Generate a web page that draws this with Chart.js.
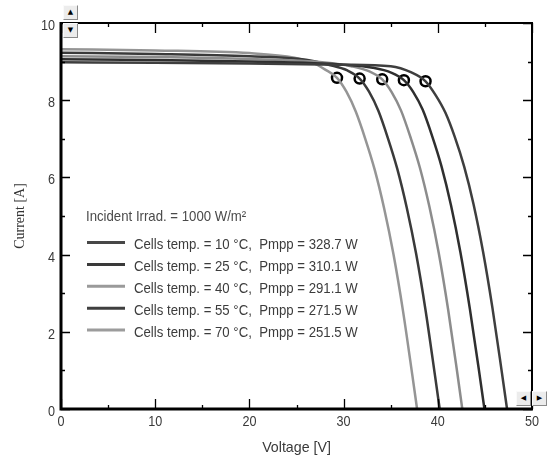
<!DOCTYPE html>
<html>
<head>
<meta charset="utf-8">
<script src="https://cdn.jsdelivr.net/npm/chart.js@4/dist/chart.umd.min.js"></script>
<style>
  html, body { margin: 0; padding: 0; background: #fff; }
  #wrap { position: relative; width: 548px; height: 459px; }
  canvas { display: block; }
  .btn {
    position: absolute; width: 15px; height: 15px; box-sizing: border-box;
    background: #ececec; border: 1px solid; border-color: #fafafa #8a8a8a #8a8a8a #fafafa;
    font: 7px "DejaVu Sans", sans-serif; color: #000; text-align: center; line-height: 13px;
  }
</style>
</head>
<body>
<div id="wrap">
  <canvas id="chart" width="548" height="459"></canvas>
  <div class="btn" style="left:63px;top:5px;">▲</div>
  <div class="btn" style="left:63px;top:23px;">▼</div>
  <div class="btn" style="left:516px;top:391px;">◀</div>
  <div class="btn" style="left:532px;top:391px;">▶</div>
</div>
<script>
// Module I-V characteristics at 1000 W/m² for several cell temperatures
const irradiance = 1000;
const cellTemps = [10, 25, 40, 55, 70];
const pmpp = [328.7, 310.1, 291.1, 271.5, 251.5];

const voltage10 = [0, 10, 20, 30, 35, 37.2, 38.7, 39.8, 40.8, 41.8, 42.8, 43.8, 44.8, 45.8, 46.8, 47.35];
const current10 = [8.98, 8.97, 8.95, 8.92, 8.88, 8.72, 8.49, 8.12, 7.68, 7.05, 6.28, 5.3, 4.08, 2.62, 0.95, 0];

const voltage25 = [0, 10, 20, 30, 33.1, 35.1, 36.4, 37.4, 38.4, 39.4, 40.4, 41.4, 42.4, 43.4, 44.4, 44.95];
const current25 = [9.06, 9.04, 9.0, 8.92, 8.84, 8.71, 8.52, 8.21, 7.75, 7.07, 6.28, 5.28, 4.06, 2.6, 0.95, 0];

const voltage40 = [0, 10, 20, 28, 30.8, 32.8, 34.1, 35.1, 36.1, 37.1, 38.1, 39.1, 40.1, 41.1, 42.1, 42.6];
const current40 = [9.14, 9.12, 9.07, 8.98, 8.88, 8.74, 8.54, 8.21, 7.73, 7.04, 6.25, 5.25, 4.04, 2.57, 0.88, 0];

const voltage55 = [0, 10, 20, 26, 28.4, 30.4, 31.7, 32.7, 33.7, 34.7, 35.7, 36.7, 37.7, 38.7, 39.7, 40.2];
const current55 = [9.23, 9.2, 9.14, 9.05, 8.92, 8.77, 8.56, 8.22, 7.72, 7.02, 6.22, 5.22, 4.02, 2.56, 0.87, 0];

const voltage70 = [0, 10, 20, 24.8, 26.8, 28, 29.3, 30.3, 31.3, 32.3, 33.3, 34.3, 35.3, 36.3, 37.3, 37.8];
const current70 = [9.32, 9.29, 9.22, 9.1, 8.96, 8.8, 8.58, 8.22, 7.7, 7.0, 6.2, 5.2, 4.0, 2.55, 0.87, 0];

// maximum power points
const mppVoltage = [38.7, 36.4, 34.1, 31.7, 29.3];
const mppCurrent = [8.49, 8.52, 8.54, 8.56, 8.58];

const xTicks = [0, 10, 20, 30, 40, 50];
const yTicks = [0, 2, 4, 6, 8, 10];

const curveV = [voltage10, voltage25, voltage40, voltage55, voltage70];
const curveI = [current10, current25, current40, current55, current70];
const curveColors = ['#3e3e3e', '#2f2f2f', '#8c8c8c', '#3a3a3a', '#959595'];
const legendColors = ['#474747', '#3a3a3a', '#9a9a9a', '#3f3f3f', '#9c9c9c'];

const FONT = '"Liberation Sans", Arial, sans-serif';

const datasets = cellTemps.map((t, k) => ({
  type: 'line',
  label: `Cells temp. = ${t} °C,  Pmpp = ${pmpp[k].toFixed(1)} W`,
  data: curveV[k].map((v, j) => ({ x: v, y: curveI[k][j] })),
  borderColor: curveColors[k],
  legendColor: legendColors[k],
  borderWidth: 2.5,
  pointRadius: 0,
  fill: false,
  cubicInterpolationMode: 'monotone'
}));

datasets.push({
  type: 'scatter',
  label: 'MPP',
  isMarker: true,
  data: mppVoltage.map((v, j) => ({ x: v, y: mppCurrent[j] })),
  pointStyle: 'circle',
  pointRadius: 5,
  pointBorderWidth: 2.5,
  pointBorderColor: '#000',
  pointBackgroundColor: 'rgba(255,255,255,0)',
  showLine: false
});

// narrow-looking text: regular face squeezed horizontally
function squeezedText(ctx, text, x, y, size, sx, align, color) {
  ctx.save();
  ctx.font = size + 'px ' + FONT;
  ctx.fillStyle = color;
  ctx.textAlign = align;
  ctx.textBaseline = 'alphabetic';
  ctx.translate(x, y);
  ctx.scale(sx, 1);
  ctx.fillText(text, 0, 0);
  ctx.restore();
}

// frame with inward ticks on all four sides, tick labels and legend block
const framePlugin = {
  id: 'frame',
  afterDatasetsDraw(chart) {
    const { ctx, chartArea: a, scales: { x, y } } = chart;
    ctx.save();
    ctx.strokeStyle = '#000';
    ctx.lineCap = 'butt';
    // ticks
    ctx.lineWidth = 1.3;
    ctx.beginPath();
    for (let v = 0; v <= 50; v += 5) {
      const px = Math.round(x.getPixelForValue(v)) + 0.5;
      const len = v % 10 === 0 ? 10 : 4;
      ctx.moveTo(px, a.bottom); ctx.lineTo(px, a.bottom - len);
      ctx.moveTo(px, a.top); ctx.lineTo(px, a.top + len);
    }
    for (let v = 0; v <= 10; v += 1) {
      const py = Math.round(y.getPixelForValue(v)) + 0.5;
      const len = v % 2 === 0 ? 9 : 4;
      ctx.moveTo(a.left, py); ctx.lineTo(a.left + len, py);
      ctx.moveTo(a.right, py); ctx.lineTo(a.right - len, py);
    }
    ctx.stroke();
    // box
    ctx.lineWidth = 2;
    ctx.beginPath();
    ctx.moveTo(a.left, a.top); ctx.lineTo(a.right, a.top); ctx.lineTo(a.right, a.bottom);
    ctx.stroke();
    ctx.lineWidth = 3;
    ctx.beginPath();
    ctx.moveTo(a.left, a.top - 1); ctx.lineTo(a.left, a.bottom); ctx.lineTo(a.right + 1, a.bottom);
    ctx.stroke();
    ctx.restore();

    // tick labels
    xTicks.forEach(v => squeezedText(ctx, String(v), x.getPixelForValue(v), a.bottom + 17, 14, 0.9, 'center', '#3a3a3a'));
    yTicks.forEach(v => squeezedText(ctx, String(v), a.left - 6, y.getPixelForValue(v) + 7, 14, 0.9, 'right', '#3a3a3a'));
    squeezedText(ctx, 'Voltage [V]', (a.left + a.right) / 2, a.bottom + 43, 14.5, 0.98, 'center', '#3a3a3a');

    // legend
    const lx = a.left + 26;
    squeezedText(ctx, `Incident Irrad. = ${irradiance} W/m²`, lx - 1, 221, 14.5, 0.91, 'left', '#4a4a4a');
    chart.data.datasets.filter(d => !d.isMarker).forEach((d, k) => {
      const yy = 242.5 + k * 21.9;
      ctx.save();
      ctx.strokeStyle = d.legendColor;
      ctx.lineWidth = 3;
      ctx.beginPath();
      ctx.moveTo(lx, yy); ctx.lineTo(lx + 38, yy);
      ctx.stroke();
      ctx.restore();
      squeezedText(ctx, d.label, lx + 47, yy + 6.5, 14.5, 0.91, 'left', '#3c3c3c');
    });
  }
};

new Chart(document.getElementById('chart'), {
  data: { datasets },
  options: {
    responsive: false,
    animation: false,
    layout: { padding: { top: 23, right: 16, left: 0, bottom: 0 } },
    plugins: { legend: { display: false }, tooltip: { enabled: false } },
    scales: {
      x: {
        type: 'linear', min: 0, max: 50,
        afterBuildTicks: s => { s.ticks = xTicks.map(v => ({ value: v })); },
        afterFit: s => { s.height = 50; },
        grid: { display: false, drawTicks: false },
        border: { display: false },
        ticks: { display: false }
      },
      y: {
        type: 'linear', min: 0, max: 10,
        afterBuildTicks: s => { s.ticks = yTicks.map(v => ({ value: v })); },
        afterFit: s => { s.width = 61; },
        grid: { display: false, drawTicks: false },
        border: { display: false },
        ticks: { display: false },
        title: { display: true, text: 'Current [A]', color: '#333',
                 font: { family: '"Liberation Serif", serif', size: 14 }, padding: { top: 12, bottom: 0 } }
      }
    }
  },
  plugins: [framePlugin]
});
</script>
</body>
</html>
